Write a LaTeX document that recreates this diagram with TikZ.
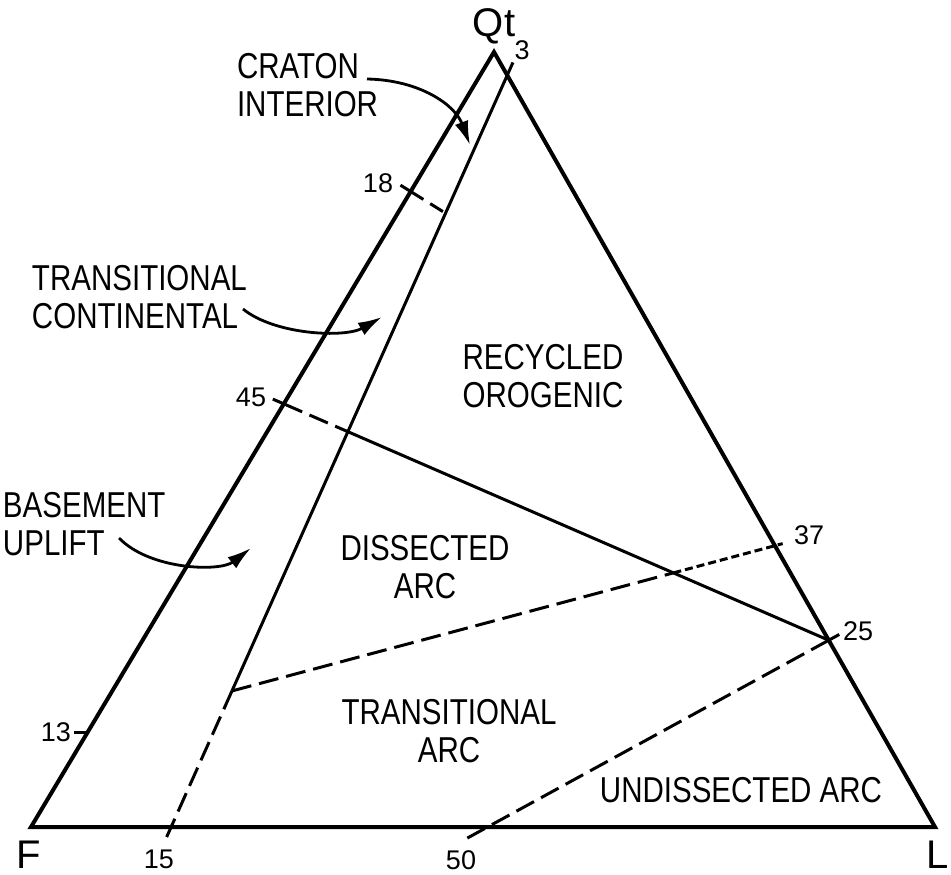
\documentclass[tikz,border=0pt]{standalone}
\usepackage{fontspec}
\setmainfont{Liberation Sans}[FakeStretch=0.82]
\newfontfamily\plainfont{Liberation Sans}
\usepackage{tikz}
\usetikzlibrary{arrows.meta, calc, positioning}

\begin{document}
\begin{tikzpicture}[
		x=0.5pt, y=-0.5pt,
		every node/.style={inner sep=0pt, outer sep=0pt},
		field/.style={font=\fontsize{18}{19}\selectfont, align=center},
		tag/.style={font=\fontsize{18}{19}\selectfont, align=left, anchor=west},
		num/.style={font=\plainfont\fontsize{13.5}{14}\selectfont},
		corner/.style={font=\plainfont\fontsize{20}{20}\selectfont, anchor=base},
		side/.style={line width=2pt, line join=miter},
		bound/.style={line width=1.5pt},
		longdash/.style={bound, dash pattern=on 10pt off 4pt},
		shortdash/.style={bound, dash pattern=on 4pt off 2pt},
		point/.style={-{Latex[length=12pt, width=7pt]}, line width=1.4pt}
		]
		
		\useasboundingbox (0,0) rectangle (951,874);
		
		% Corners of the triangle
		\coordinate (Qt) at (494,52);
		\coordinate (F) at (31,827);
		\coordinate (L) at (935,827);
		\draw[side] (F) -- (Qt) -- (L) -- cycle;
		
		\node[corner] (qtlab) at (494,36) {Qt};
		\node[corner] (flab) at (29,868) {F};
		\node[corner] (llab) at (938,868) {L};
		
		% Points on the sides
		\coordinate (t3) at ($(Qt)!0.03!(L)$);
		\coordinate (t37) at ($(L)!0.363!(Qt)$);
		\coordinate (t25) at ($(L)!0.241!(Qt)$);
		\coordinate (t18) at ($(Qt)!0.18!(F)$);
		\coordinate (t45) at ($(Qt)!0.454!(F)$);
		\coordinate (t13) at ($(F)!0.1226!(Qt)$);
		\coordinate (b15) at ($(F)!0.155!(L)$);
		\coordinate (b50) at ($(F)!0.505!(L)$);
		
		% Points inside
		\coordinate (bend) at ($(t3)!0.819!(b15)$);
		\coordinate (c18) at ($(t3)!0.1835!(b15)$);
		\coordinate (c45) at (intersection of t45--t25 and t3--b15);
		\coordinate (c37) at (intersection of bend--t37 and t45--t25);
		
		% Field boundaries
		\draw[bound] ($(t3)!-7pt!(b15)$) -- (bend);
		\draw[longdash] (bend) -- (b15) -- ($(b15)!-9pt!(t3)$);
		
		\draw[bound] ($(t18)!-6pt!(c18)$) -- (t18);
		\draw[dash pattern=on 7.5pt off 4pt, bound] (t18) -- (c18);
		
		\draw[bound] ($(t45)!-6pt!(t25)$) -- (t45);
		\draw[longdash] (t45) -- (c45);
		\draw[bound] (c45) -- (t25);
		
		\draw[longdash] (bend) -- (c37);
		\draw[shortdash] (c37) -- (t37) -- ($(t37)!-4pt!(c37)$);
		
		\draw[bound] ($(t25)!-6pt!(b50)$) -- (t25);
		\draw[longdash] (t25) -- (b50) -- ($(b50)!-12pt!(t25)$);
		
		\draw[bound] (t13) -- ++(-14,0);
		
		% Tick numbers
		\node[num] (n3) at (522,50) {3};
		\node[num] (n18) at (378,183) {18};
		\node[num] (n45) at (251,397) {45};
		\node[num] (n13) at (56,732) {13};
		\node[num] (n15) at (159,859) {15};
		\node[num] (n50) at (461,860) {50};
		\node[num] (n25) at (858,631) {25};
		\node[num] (n37) at (809,535) {37};
		
		% Fields
		\node[field] (recycled) at (543,376) {RECYCLED\\OROGENIC};
		\node[field] (dissected) at (425,567) {DISSECTED\\ARC};
		\node[field] (transarc) at (449,731) {TRANSITIONAL\\ARC};
		\node[field] (undissected) at (741,790) {UNDISSECTED ARC};
		
		% Labels outside with arrows
		\node[tag] (craton) at (237,85) {CRATON\\INTERIOR};
		\node[tag] (transcont) at (32,297) {TRANSITIONAL\\CONTINENTAL};
		\node[tag] (basement) at (3,524) {BASEMENT\\UPLIFT};
		
		\coordinate (cratonFrom) at (367,79);
		\coordinate (cratonTo) at (470,145);
		\coordinate (transFrom) at (243,309);
		\coordinate (transTo) at (382,317);
		\coordinate (baseFrom) at (119,538);
		\coordinate (baseTo) at (251,548);
		
		\draw[point] (cratonFrom) .. controls (420,80) and (455,105) .. (cratonTo);
		\draw[point] (transFrom) .. controls (275,335) and (345,338) .. (transTo);
		\draw[point] (baseFrom) .. controls (150,570) and (220,572) .. (baseTo);
		
	\end{tikzpicture}
\end{document}
